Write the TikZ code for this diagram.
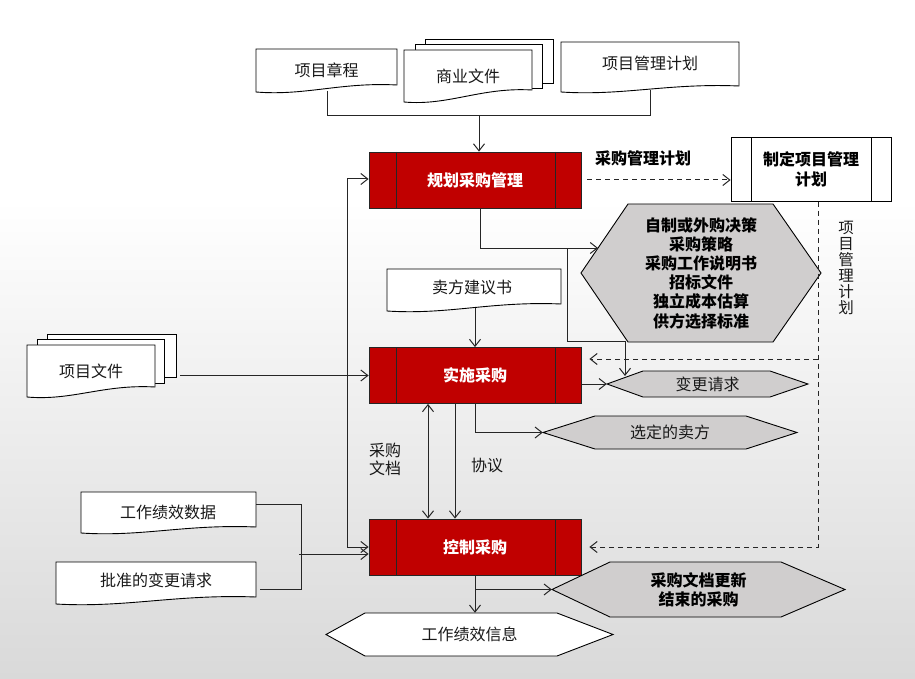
\documentclass[tikz,border=0pt]{standalone}
\usepackage{fontspec}
\setmainfont{Noto Sans CJK SC}
\usetikzlibrary{arrows.meta,calc}
\definecolor{procred}{HTML}{C00000}
\definecolor{hexgray}{HTML}{D0CECE}
\definecolor{lncol}{HTML}{262626}
\definecolor{bgbot}{HTML}{D9D9D9}
% document shape: x1 y1 x2 y2 rise
\newcommand\docshape[5]{%
  \filldraw[docline] (#1,#2) -- (#3,#2) -- (#3,#4-#5)
    .. controls ({#1+0.6*(#3-#1)},#4-#5-3) and ({#1+0.35*(#3-#1)},#4+4) .. (#1,#4) -- cycle;}
% hexagon: fill, xL, xTL, xTR, xR, ytop, ybot
\newcommand\hexshape[7]{%
  \filldraw[hexline,fill=#1] (#2,{(#6+#7)/2}) -- (#3,#6) -- (#4,#6) -- (#5,{(#6+#7)/2}) -- (#4,#7) -- (#3,#7) -- cycle;}
\begin{document}
\begin{tikzpicture}[x=1pt,y=-1pt,
  docline/.style={draw=black, line width=0.9pt, fill=white},
  hexline/.style={draw=black, line width=0.9pt},
  lbl/.style={font=\fontsize{16}{19}\selectfont, inner sep=0pt, text=black!90},
  blbl/.style={font=\bfseries\fontsize{16}{19.2}\selectfont, inner sep=0pt, align=center, text=black},
  proc/.style={draw=black!85, line width=0.8pt, fill=procred, text=white,
    font=\bfseries\fontsize{16}{19}\selectfont, minimum width=212pt, minimum height=56pt, inner sep=0pt,
    path picture={\draw[black!85, line width=0.8pt]
      ([xshift=27pt]path picture bounding box.north west) -- ([xshift=27pt]path picture bounding box.south west)
      ([xshift=-26pt]path picture bounding box.north east) -- ([xshift=-26pt]path picture bounding box.south east);}},
  procw/.style={draw=black, line width=0.8pt, fill=white, text=black, align=center,
    font=\bfseries\fontsize{16}{20}\selectfont, minimum width=160pt, minimum height=64pt, inner sep=0pt,
    path picture={\draw[black, line width=0.8pt]
      ([xshift=20pt]path picture bounding box.north west) -- ([xshift=20pt]path picture bounding box.south west)
      ([xshift=-20pt]path picture bounding box.north east) -- ([xshift=-20pt]path picture bounding box.south east);}},
  conn/.style={draw=lncol, line width=1pt},
  arr/.style={conn, -{Straight Barb[length=7pt,width=11pt]}},
  biarr/.style={conn, {Straight Barb[length=7pt,width=11pt]}-{Straight Barb[length=7pt,width=11pt]}},
  darr/.style={arr, dash pattern=on 5pt off 4pt},
]
% background
\fill[white] (0,0) rectangle (915,200);
\shade[top color=white, bottom color=bgbot] (0,200) rectangle (915,679);
\useasboundingbox (0,0) rectangle (915,679);

% ---- documents ----
\docshape{256}{49}{397}{92}{7}
\node[lbl, minimum width=141pt] (zc) at (326.5,70) {项目章程};
\filldraw[docline] (425,39) rectangle (553,83);
\filldraw[docline] (415,44) rectangle (542,88);
\docshape{404}{50}{532}{102}{12}
\node[lbl, minimum width=128pt] (sy) at (468,76) {商业文件};
\docshape{561}{42}{739}{92}{6}
\node[lbl, minimum width=178pt] (pm) at (650,63) {项目管理计划};

\docshape{387}{269}{561}{311}{7}
\node[lbl, minimum width=174pt] (mf) at (472,287) {卖方建议书};

\filldraw[docline] (47,334) rectangle (176,377);
\filldraw[docline] (37,339) rectangle (164,383);
\docshape{27}{345}{155}{397}{10}
\node[lbl, minimum width=128pt] (xw) at (91,371) {项目文件};

\docshape{81}{492}{256}{533}{6}
\node[lbl, minimum width=175pt] (gd) at (168,512) {工作绩效数据};
\docshape{56}{562}{256}{604}{7}
\node[lbl, minimum width=200pt] (pz) at (156,580) {批准的变更请求};

% ---- processes ----
\node[proc] (gh) at (475,180) {规划采购管理};
\node[proc] (ss) at (475,375.5) {实施采购};
\node[proc] (kz) at (475,547) {控制采购};
\node[procw] (zd) at (811,169.5) {制定项目管理\\计划};

% ---- hexagons ----
\hexshape{hexgray}{581}{628}{773}{821}{204}{342}
\node[blbl, minimum width=240pt, minimum height=138pt] (hx) at (701,273)
  {自制或外购决策\\采购策略\\采购工作说明书\\招标文件\\独立成本估算\\供方选择标准};
\hexshape{hexgray}{607}{643}{770}{808}{371}{397}
\node[lbl, minimum width=201pt, minimum height=26pt] (bq) at (707.5,384) {变更请求};
\hexshape{hexgray}{543}{595}{746}{797}{416}{449}
\node[lbl, minimum width=254pt, minimum height=33pt] (xd) at (670,432.5) {选定的卖方};
\hexshape{hexgray}{552}{610}{781}{845}{562}{617}
\node[blbl, minimum width=293pt, minimum height=55pt] (cg) at (698.5,589.5) {采购文档更新\\结束的采购};
\hexshape{white}{326}{365}{557}{613}{613}{656}
\node[lbl, minimum width=287pt, minimum height=43pt] (gx) at (469.5,634.5) {工作绩效信息};

% ---- labels ----
\node[blbl] (cgjh) at (643,158) {采购管理计划};
\node[lbl, align=center, font=\fontsize{15.5}{16}\selectfont] (vlab) at (846,267.5) {项\\目\\管\\理\\计\\划};
\node[lbl, align=left, anchor=west, font=\fontsize{16}{18}\selectfont] (cgwd) at (369,459) {采购\\文档};
\node[lbl] (xy) at (487,465) {协议};

% ---- connectors ----
\coordinate (zcb) at (327,91);
\coordinate (pmb) at (650,90);
\coordinate (tb1) at (327,116);
\coordinate (tb2) at (650,116);
\coordinate (tbm) at (479,116);
\draw[conn] (zcb) -- (tb1) -- (tb2) -- (pmb);
\draw[arr] (tbm) -- (tbm |- gh.north);

\draw[darr, shorten <=6pt] (gh.east) -- (gh.east -| zd.west);

\coordinate (g1) at (480,248);
\coordinate (hxin) at (598,248);
\draw[arr] (gh.south -| g1) -- (g1) -- (hxin);
\coordinate (b1) at (567,248);
\coordinate (b2) at (567,341);
\coordinate (b3) at (625,341);
\coordinate (bqin) at (625,376);
\draw[arr] (b1) -- (b2) -- (b3) -- (bqin);

\coordinate (mfb) at (475,308);
\draw[arr] (mfb) -- (mfb |- ss.north);

\coordinate (xwr) at (180,375.5);
\draw[arr] (xwr) -- (ss.west);

\coordinate (lv1) at (347,179);
\coordinate (lv2) at (347,547);
\draw[biarr] (gh.west |- lv1) -- (lv1) -- (lv2) -- (kz.west |- lv2);

\coordinate (gdr) at (256,504);
\coordinate (pzr) at (260,589);
\coordinate (lb1) at (301,504);
\coordinate (lb2) at (301,589);
\coordinate (lbm) at (299,554);
\draw[conn] (gdr) -- (lb1) -- (lb2) -- (pzr);
\draw[arr] (lbm) -- (kz.west |- lbm);

\coordinate (v1) at (428,0);
\coordinate (v2) at (455,0);
\draw[biarr] (ss.south -| v1) -- (kz.north -| v1);
\draw[arr] (ss.south -| v2) -- (kz.north -| v2);

\draw[arr] (ss.south) -- (ss.south |- xd.west) -- (xd.west);
\draw[arr] (ss.east |- bq.west) -- (bq.west);

\coordinate (rd2) at (818,547);
\coordinate (rdm) at (818,359);
\draw[darr, shorten >=8pt] (zd.south -| rd2) -- (rd2) -- (kz.east |- rd2);
\draw[darr, shorten >=8pt] (rdm) -- (ss.east |- rdm);

\draw[arr] (kz.south) -- (kz.south |- gx.north);
\draw[arr] (kz.south |- cg.west) -- (cg.west);
\end{tikzpicture}
\end{document}
